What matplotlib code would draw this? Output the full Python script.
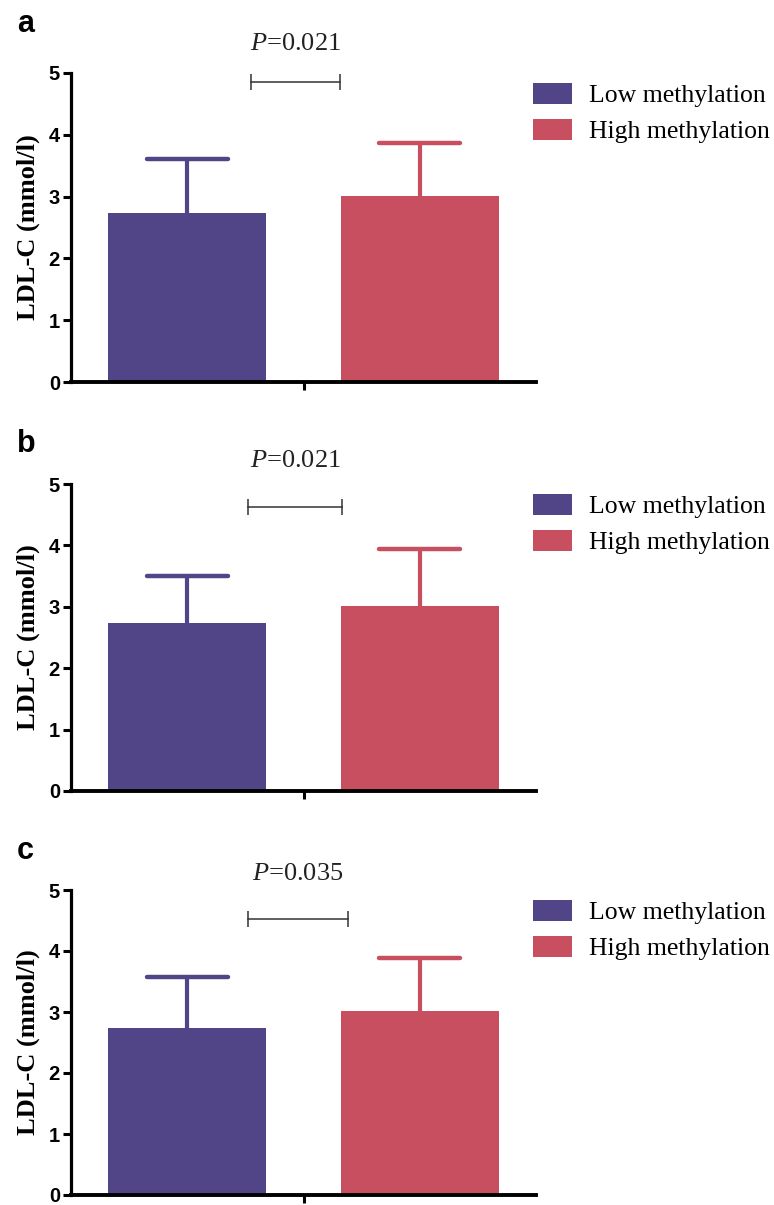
import matplotlib
matplotlib.use("Agg")
import matplotlib.pyplot as plt
from matplotlib.patches import Patch

plt.rcParams["mathtext.fontset"] = "custom"
plt.rcParams["mathtext.rm"] = "Liberation Serif"
plt.rcParams["mathtext.it"] = "Liberation Serif:italic"

# data
groups = ["Low methylation", "High methylation"]
panel_labels = ["a", "b", "c"]
means_a = [2.73, 3.01]
sd_a = [0.88, 0.86]
means_b = [2.74, 3.01]
sd_b = [0.76, 0.93]
means_c = [2.745, 3.01]
sd_c = [0.835, 0.88]
p_values = ["0.021", "0.021", "0.035"]

means = [means_a, means_b, means_c]
sds = [sd_a, sd_b, sd_c]

# annotation placement (data coords)
bracket_y = [4.85, 4.63, 4.53]
bracket_x = [(0.276, 0.659), (0.263, 0.664), (0.263, 0.69)]
ptext_y = [5.47, 5.37, 5.27]
ptext_x = [0.466, 0.466, 0.474]
letter_baseline_px = [32, 452, 859]

colors = ["#524587", "#C84F60"]
serif = "Liberation Serif"
sans = "Liberation Sans"

W, H = 774, 1205
fig = plt.figure(figsize=(W / 100, H / 100), dpi=100)

# axes boxes in pixels: (left, top, right, bottom)
boxes = [(71, 73, 536, 382), (71, 484, 536, 791), (71, 890, 536, 1195)]
bar_w = 0.68
cap_half = 0.175

for i, (l, t, r, b) in enumerate(boxes):
    ax = fig.add_axes([l / W, 1 - b / H, (r - l) / W, (b - t) / H])
    x = list(range(len(groups)))
    ax.bar(x, means[i], width=bar_w, color=colors, linewidth=0, zorder=2)
    # upper-only error bars (SD)
    for xi, m, s, c in zip(x, means[i], sds[i], colors):
        ax.vlines(xi, m, m + s, color=c, lw=3, zorder=1)
        ax.hlines(m + s, xi - cap_half, xi + cap_half, color=c, lw=3.2,
                  capstyle="round", zorder=1)

    ax.set_xlim(-0.5, 1.5)
    ax.set_ylim(0, 5)
    ax.set_xticks([0.5])
    ax.set_xticklabels([""])
    ax.set_yticks([0, 1, 2, 3, 4, 5])
    ax.tick_params(axis="both", length=6, width=2.2, direction="out", pad=2)
    for lab in ax.get_yticklabels():
        lab.set_fontfamily(sans)
        lab.set_fontweight("bold")
        lab.set_fontsize(14.5)
    for side in ["top", "right"]:
        ax.spines[side].set_visible(False)
    ax.spines["left"].set_linewidth(2.3)
    ax.spines["bottom"].set_linewidth(2.8)

    ax.set_ylabel("LDL-C (mmol/l)", fontfamily=serif, fontweight="bold",
                  fontsize=19, labelpad=6)

    # significance bracket
    x1, x2 = bracket_x[i]
    yb = bracket_y[i]
    ax.plot([x1, x2], [yb, yb], color="#333333", lw=1.1, clip_on=False)
    ax.vlines([x1, x2], yb - 0.13, yb + 0.13, color="#333333", lw=1.1,
              clip_on=False)
    ax.text(ptext_x[i], ptext_y[i], r"$\mathit{P}$=" + p_values[i],
            ha="center", va="center", fontfamily=serif, fontsize=19,
            color="#222222", clip_on=False)

    # panel letter
    fig.text(17 / W, 1 - letter_baseline_px[i] / H, panel_labels[i],
             fontfamily=sans, fontweight="bold", fontsize=22,
             ha="left", va="baseline")

    handles = [Patch(facecolor=c, edgecolor="none") for c in colors]
    ax.legend(handles, groups, loc="upper left",
              bbox_to_anchor=(533 / W, 1 - (t + 10) / H),
              bbox_transform=fig.transFigure, frameon=False, borderpad=0,
              borderaxespad=0, handlelength=1.5, handleheight=0.88,
              handletextpad=0.68, labelspacing=0.45,
              prop={"family": serif, "size": 18.5})

fig.savefig("out.png", dpi=100)
